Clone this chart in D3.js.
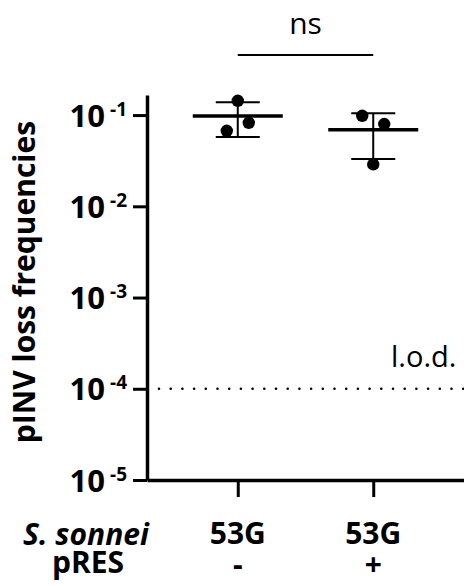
<!DOCTYPE html>
<html>
<head>
<meta charset="utf-8">
<script src="https://cdn.jsdelivr.net/npm/d3@7"></script>
<style>
  body { margin: 0; background: #fff; }
  text { font-family: "Open Sans", sans-serif; fill: #000; }
</style>
</head>
<body>
<div id="main"></div>
<script>
// data
let groups = ["pRES-", "pRES+"]
let strainLabels = ["53G", "53G"]
let presLabels = ["-", "+"]
let freqMinus = [0.1435, 0.0673, 0.0823]
let freqPlus = [0.0288, 0.0983, 0.0797]
let yTicks = [1e-5, 1e-4, 1e-3, 1e-2, 1e-1]
let lod = 1e-4
let sigLabel = "ns"

let width = 464
let height = 585

let dataset = [
    { group: groups[0], values: freqMinus },
    { group: groups[1], values: freqPlus }
]

let svg = d3.select('#main')
            .append("svg")
            .attr("width", width)
            .attr("height", height)

let yScale = d3.scaleLog().domain([1e-5, 0.166]).range([480, 95])
let xScale = d3.scalePoint().domain(groups).range([147, 464]).padding(0.67)

let axisX0 = 147
let axisY0 = 480

// y axis
let yAxis = d3.axisLeft(yScale)
              .tickValues(yTicks)
              .tickSize(14)
              .tickSizeOuter(0)
              .tickPadding(6)
              .tickFormat(() => "")

let gy = svg.append('g')
    .attr('transform', `translate(${axisX0}, 0)`)
    .call(yAxis)

gy.select('.domain').attr('stroke-width', 3.5).attr('stroke', '#000')
gy.selectAll('.tick line').attr('stroke-width', 3).attr('stroke', '#000')
gy.selectAll('.tick text').each(function (d) {
    let t = d3.select(this)
    t.attr('font-size', 31).attr('font-weight', 'bold').attr('dy', '0.36em').attr('fill', '#000')
    t.append('tspan').text("10")
    t.append('tspan')
     .attr('dx', 5)
     .attr('dy', -11)
     .attr('font-size', 19)
     .text("-" + Math.round(-Math.log10(d)))
})

// x axis
let xAxis = d3.axisBottom(xScale)
              .tickSize(17)
              .tickSizeOuter(0)
              .tickFormat(() => "")

let gx = svg.append('g')
    .attr('transform', `translate(0, ${axisY0})`)
    .call(xAxis)

gx.select('.domain').attr('stroke-width', 3.5).attr('stroke', '#000')
gx.selectAll('.tick line').attr('stroke-width', 3).attr('stroke', '#000')

// limit of detection
svg.append('line')
    .attr('x1', 159)
    .attr('x2', width)
    .attr('y1', yScale(lod))
    .attr('y2', yScale(lod))
    .attr('stroke', '#000')
    .attr('stroke-width', 2.6)
    .attr('stroke-linecap', 'round')
    .attr('stroke-dasharray', '0 11.7')

svg.append('text')
    .attr('x', 391)
    .attr('y', 367)
    .attr('font-size', 29)
    .text("l.o.d.")

// mean and SD bars
let jitter = [0, -11, 11]

let grp = svg.selectAll('.grp')
    .data(dataset)
    .enter()
    .append('g')
    .classed('grp', true)

grp.each(function (d) {
    let g = d3.select(this)
    let cx = xScale(d.group)
    let m = d3.mean(d.values)
    let sd = d3.deviation(d.values)

    g.append('line')
     .attr('x1', cx).attr('x2', cx)
     .attr('y1', yScale(m + sd)).attr('y2', yScale(m - sd))
     .attr('stroke', '#000').attr('stroke-width', 2)

    g.selectAll('.cap')
     .data([m + sd, m - sd])
     .enter()
     .append('line')
     .attr('x1', cx - 22).attr('x2', cx + 22)
     .attr('y1', (v) => yScale(v)).attr('y2', (v) => yScale(v))
     .attr('stroke', '#000').attr('stroke-width', 2)

    g.append('line')
     .attr('x1', cx - 45).attr('x2', cx + 45)
     .attr('y1', yScale(m)).attr('y2', yScale(m))
     .attr('stroke', '#000').attr('stroke-width', 3.5)

    g.selectAll('circle')
     .data(d.values)
     .enter()
     .append('circle')
     .attr('cx', (v, i) => cx + jitter[i])
     .attr('cy', (v) => yScale(v))
     .attr('r', 6.2)
     .style('fill', '#000')
})

// significance bracket
svg.append('line')
    .attr('x1', xScale(groups[0]))
    .attr('x2', xScale(groups[1]))
    .attr('y1', 55)
    .attr('y2', 55)
    .attr('stroke', '#000')
    .attr('stroke-width', 2)

svg.append('text')
    .attr('x', (xScale(groups[0]) + xScale(groups[1])) / 2)
    .attr('y', 34)
    .attr('font-size', 30)
    .style('text-anchor', 'middle')
    .text(sigLabel)

// y title
svg.append('text')
    .attr('transform', 'translate(35, 282) rotate(-90)')
    .attr('font-size', 30)
    .attr('font-weight', 'bold')
    .style('text-anchor', 'middle')
    .text("pINV loss frequencies")

// category rows under the x axis
svg.append('text')
    .attr('x', 86)
    .attr('y', 545)
    .attr('font-size', 30)
    .attr('font-weight', 'bold')
    .attr('font-style', 'italic')
    .style('text-anchor', 'middle')
    .text("S. sonnei")

svg.append('text')
    .attr('x', 88)
    .attr('y', 573)
    .attr('font-size', 30)
    .attr('font-weight', 'bold')
    .style('text-anchor', 'middle')
    .text("pRES")

svg.selectAll('.strain')
    .data(strainLabels)
    .enter()
    .append('text')
    .classed('strain', true)
    .attr('x', (d, i) => xScale(groups[i]))
    .attr('y', 544)
    .attr('font-size', 30)
    .attr('font-weight', 'bold')
    .style('text-anchor', 'middle')
    .text((d) => d)

svg.selectAll('.pres')
    .data(presLabels)
    .enter()
    .append('text')
    .classed('pres', true)
    .attr('x', (d, i) => xScale(groups[i]))
    .attr('y', 575)
    .attr('font-size', 30)
    .attr('font-weight', 'bold')
    .style('text-anchor', 'middle')
    .text((d) => d)
</script>
</body>
</html>
